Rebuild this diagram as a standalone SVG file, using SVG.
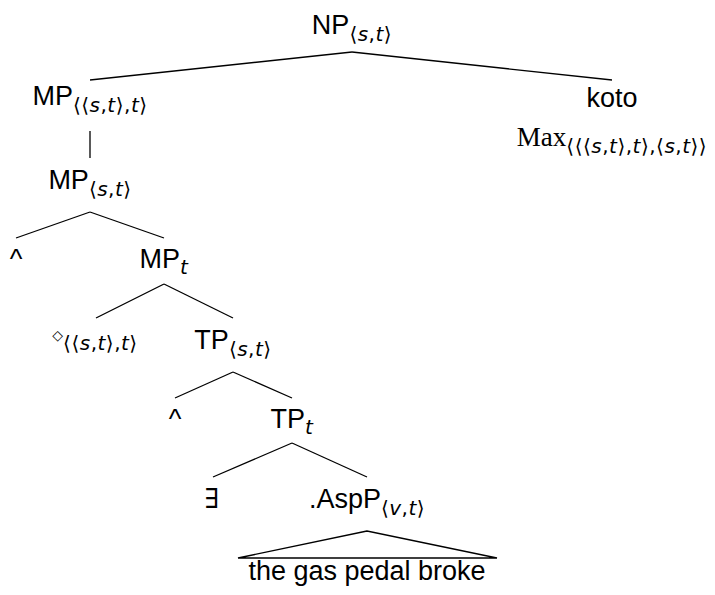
<svg xmlns="http://www.w3.org/2000/svg" width="715" height="595" viewBox="0 0 715 595">
<style>
.lbl{font-family:"Liberation Sans","DejaVu Sans",sans-serif;font-size:27px;fill:#000;text-anchor:middle}
.sub{font-family:"DejaVu Sans","Liberation Sans",sans-serif;font-size:20px;letter-spacing:0.5px}
.i{font-style:italic}
.ser{font-family:"Liberation Serif","DejaVu Serif",serif}
.edge{stroke:#000;stroke-width:1.3;fill:none}
</style>
<rect width="715" height="595" fill="#fff"/>
<g id="connectors">
<line class="edge" x1="352" y1="52" x2="90" y2="80"/>
<line class="edge" x1="352" y1="52" x2="612" y2="80"/>
<line class="edge" x1="90" y1="131" x2="90" y2="158"/>
<line class="edge" x1="90" y1="212" x2="16" y2="238"/>
<line class="edge" x1="90" y1="212" x2="164" y2="238"/>
<line class="edge" x1="164" y1="284" x2="96" y2="318"/>
<line class="edge" x1="164" y1="284" x2="233" y2="318"/>
<line class="edge" x1="233" y1="372" x2="175" y2="398"/>
<line class="edge" x1="233" y1="372" x2="292" y2="398"/>
<line class="edge" x1="292" y1="443" x2="213" y2="477"/>
<line class="edge" x1="292" y1="443" x2="367" y2="477"/>
<polygon class="edge" points="367,531 238,558 497,558"/>
</g>
<g id="np"><text class="lbl" x="352" y="34">NP<tspan class="sub" dy="7">⟨<tspan class="i">s</tspan>,<tspan class="i">t</tspan>⟩</tspan></text></g>
<g id="mp1"><text class="lbl" x="90" y="105">MP<tspan class="sub" dy="7">⟨⟨<tspan class="i">s</tspan>,<tspan class="i">t</tspan>⟩,<tspan class="i">t</tspan>⟩</tspan></text></g>
<g id="koto"><text class="lbl" x="612" y="107">koto</text></g>
<g id="max"><text class="lbl" x="612" y="146"><tspan class="ser">Max</tspan><tspan class="sub" dy="7">⟨⟨⟨<tspan class="i">s</tspan>,<tspan class="i">t</tspan>⟩,<tspan class="i">t</tspan>⟩,⟨<tspan class="i">s</tspan>,<tspan class="i">t</tspan>⟩⟩</tspan></text></g>
<g id="mp2"><text class="lbl" x="90" y="189">MP<tspan class="sub" dy="7">⟨<tspan class="i">s</tspan>,<tspan class="i">t</tspan>⟩</tspan></text></g>
<g id="up1"><text class="lbl" x="16" y="268">^</text></g>
<g id="mpt"><text class="lbl" x="164" y="268">MP<tspan class="sub i" dy="6">t</tspan></text></g>
<g id="dia"><text class="lbl" x="95" y="345"><tspan font-family="DejaVu Sans" font-size="14" dy="-5">◇</tspan><tspan class="sub" dy="10">⟨⟨<tspan class="i">s</tspan>,<tspan class="i">t</tspan>⟩,<tspan class="i">t</tspan>⟩</tspan></text></g>
<g id="tp1"><text class="lbl" x="233" y="349">TP<tspan class="sub" dy="7">⟨<tspan class="i">s</tspan>,<tspan class="i">t</tspan>⟩</tspan></text></g>
<g id="up2"><text class="lbl" x="175" y="428">^</text></g>
<g id="tpt"><text class="lbl" x="292" y="428">TP<tspan class="sub i" dy="6">t</tspan></text></g>
<g id="exists"><text class="lbl ser" x="212" y="508">∃</text></g>
<g id="asp"><text class="lbl" x="367" y="508">.AspP<tspan class="sub" dy="7">⟨<tspan class="i">v</tspan>,<tspan class="i">t</tspan>⟩</tspan></text></g>
<g id="leaf"><text class="lbl" x="367" y="580">the gas pedal broke</text></g>
</svg>
